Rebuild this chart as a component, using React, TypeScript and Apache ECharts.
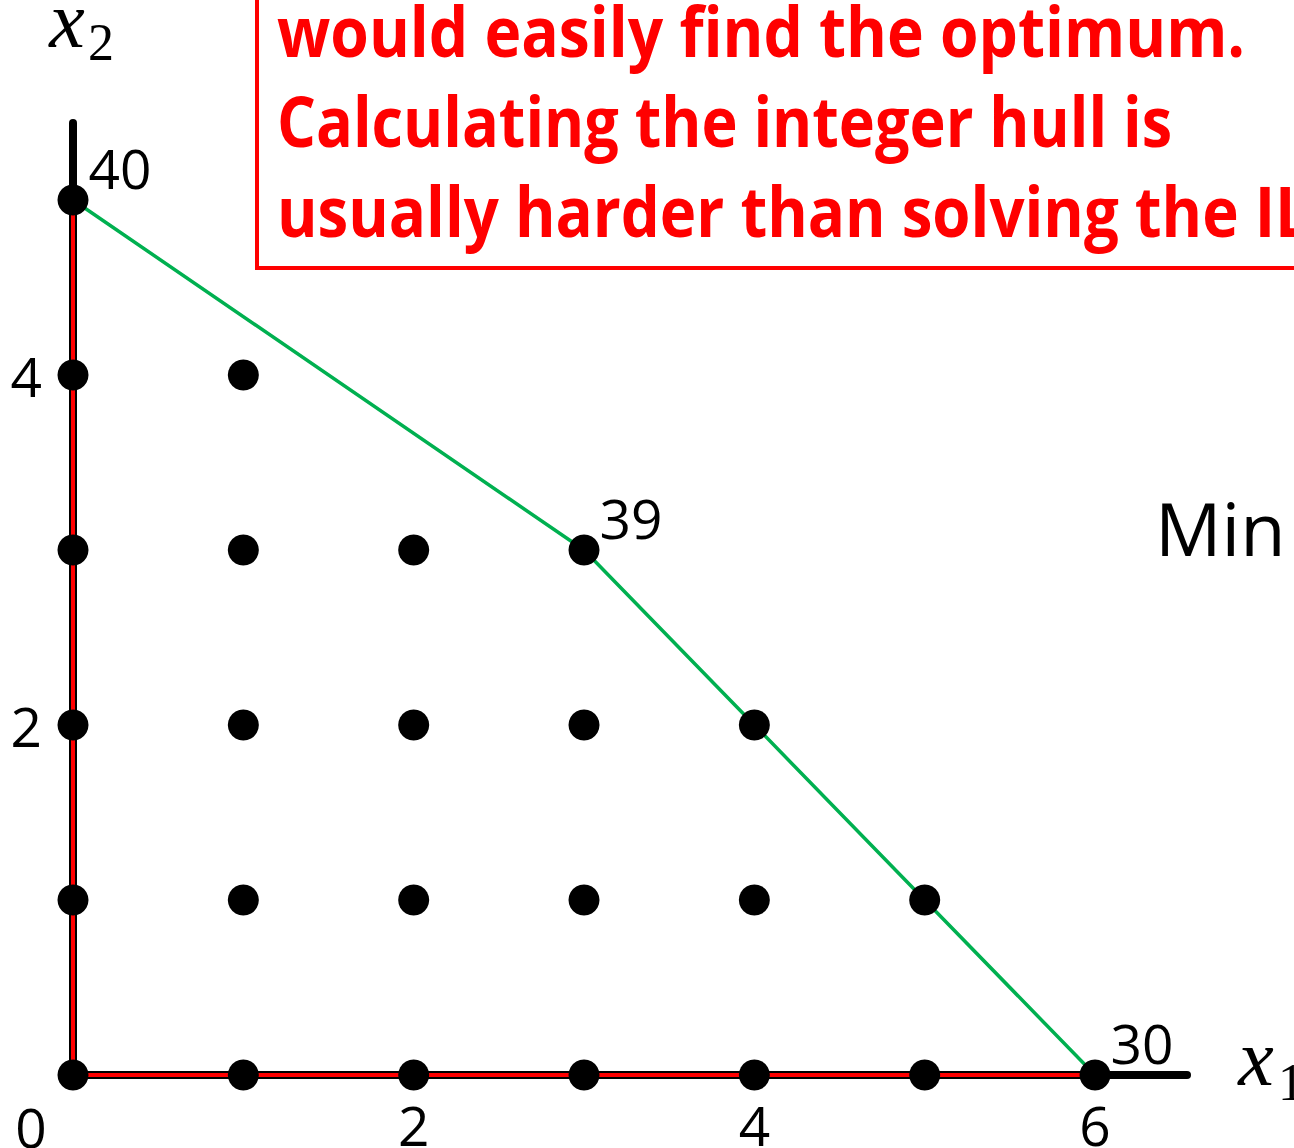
import React, { useEffect, useRef } from "react";
import * as echarts from "echarts";

// ---- data ----
// integer lattice points inside the polytope, grouped by row (x2 value)
const rowX2 = [0, 1, 2, 3, 4, 5];
const rowMaxX1 = [6, 5, 4, 3, 1, 0];
// integer hull vertices (green boundary)
const hullX1 = [0, 3, 4, 5, 6];
const hullX2 = [5, 3, 2, 1, 0];
// objective values labelled at vertices
const vertexX1 = [0, 3, 6];
const vertexX2 = [5, 3, 0];
const vertexValue = ["40", "39", "30"];
// tick labels
const xTickLabels = [2, 4, 6];
const yTickLabels = [2, 4];
const originLabel = "0";
const boxLines = [
  "would easily find the optimum.",
  "Calculating the integer hull is",
  "usually harder than solving the ILP.",
];
const sideText = "Min";

function measure(text: string, font: string): number {
  const c = document.createElement("canvas");
  const ctx = c.getContext("2d");
  if (!ctx) return 1;
  ctx.font = font;
  return ctx.measureText(text).width;
}

export default function App() {
  const ref = useRef<HTMLDivElement>(null);
  useEffect(() => {
    if (!ref.current) return;
    const chart = echarts.init(ref.current, null, { renderer: "svg" });

    const points: any[] = [];
    rowX2.forEach((y, i) => {
      for (let x = 0; x <= rowMaxX1[i]; x++) {
        const vi = vertexX1.findIndex((vx, k) => vx === x && vertexX2[k] === y);
        const item: any = { value: [x, y] };
        if (vi >= 0) {
          item.label = {
            show: true,
            formatter: vertexValue[vi],
          };
        }
        points.push(item);
      }
    });

    const boxFontSize = 70;
    const boxFont = `bold ${boxFontSize}px "Open Sans"`;
    const w1 = measure(boxLines[0], boxFont);
    const w2 = measure(boxLines[1], boxFont);
    const s1 = 968 / w1;
    const s2 = 895 / w2;
    const s3 = (s1 + s2) / 2;
    const scales = [s1, s2, s3];
    const lineY = [30, 120, 209];

    chart.setOption({
      animation: false,
      backgroundColor: "#ffffff",
      grid: {
        left: 73,
        right: 107,
        top: 123,
        bottom: 73,
        containLabel: false,
        outerBoundsMode: "none",
      },
      xAxis: {
        type: "value",
        min: 0,
        max: 6.54,
        interval: 1,
        axisLine: { show: true, lineStyle: { color: "#000", width: 8 } },
        axisTick: { show: false },
        splitLine: { show: false },
        axisLabel: {
          showMaxLabel: false,
          showMinLabel: true,
          margin: 22,
          fontFamily: "Open Sans",
          fontSize: 55,
          color: "#000",
          formatter: (v: number) => (xTickLabels.includes(v) ? String(v) : ""),
        },
      },
      yAxis: {
        type: "value",
        min: 0,
        max: 5.44,
        interval: 1,
        axisLine: { show: true, lineStyle: { color: "#000", width: 8 } },
        axisTick: { show: false },
        splitLine: { show: false },
        axisLabel: {
          showMaxLabel: false,
          margin: 31,
          fontFamily: "Open Sans",
          fontSize: 55,
          color: "#000",
          formatter: (v: number) => (yTickLabels.includes(v) ? String(v) : ""),
        },
      },
      series: [
        {
          type: "line",
          data: [
            [0, rowX2[rowX2.length - 1]],
            [0, 0],
            [rowMaxX1[0], 0],
          ],
          symbol: "none",
          lineStyle: { color: "#ff0000", width: 4 },
          z: 2,
        },
        {
          type: "line",
          data: hullX1.map((x, i) => [x, hullX2[i]]),
          symbol: "none",
          lineStyle: { color: "#00b050", width: 3.5 },
          z: 3,
        },
        {
          type: "scatter",
          data: points,
          symbol: "circle",
          symbolSize: 31,
          itemStyle: { color: "#000", opacity: 1 },
          label: {
            show: false,
            position: "inside",
            offset: [47, -33],
            fontFamily: "Open Sans",
            fontSize: 55,
            color: "#000",
            opacity: 1,
          },
          z: 4,
        },
      ],
      graphic: [
        {
          type: "rect",
          shape: { x: 257, y: -20, width: 1100, height: 288 },
          style: { fill: "#fff", stroke: "#ff0000", lineWidth: 4 },
          z: 10,
        },
        ...boxLines.map((t, i) => ({
          type: "text",
          x: 277,
          y: lineY[i],
          scaleX: scales[i],
          z: 11,
          style: {
            text: t,
            fontFamily: "Open Sans",
            fontWeight: "bold",
            fontSize: boxFontSize,
            fill: "#ff0000",
            align: "left",
            verticalAlign: "middle",
          },
        })),
        {
          type: "text",
          x: 1155,
          y: 527,
          style: {
            text: sideText,
            fontFamily: "Open Sans",
            fontSize: 74,
            fill: "#000",
            align: "left",
            verticalAlign: "middle",
          },
        },
        {
          type: "text",
          x: 31,
          y: 1126,
          style: {
            text: originLabel,
            fontFamily: "Open Sans",
            fontSize: 55,
            fill: "#000",
            align: "center",
            verticalAlign: "middle",
          },
        },
        {
          type: "text",
          x: 67,
          y: 20,
          style: {
            text: "x",
            fontFamily: "Liberation Serif",
            fontStyle: "italic",
            fontSize: 80,
            fill: "#000",
            align: "center",
            verticalAlign: "middle",
          },
        },
        {
          type: "text",
          x: 101,
          y: 42,
          style: {
            text: "2",
            fontFamily: "Liberation Serif",
            fontSize: 52,
            fill: "#000",
            align: "center",
            verticalAlign: "middle",
          },
        },
        {
          type: "text",
          x: 1256,
          y: 1058,
          style: {
            text: "x",
            fontFamily: "Liberation Serif",
            fontStyle: "italic",
            fontSize: 80,
            fill: "#000",
            align: "center",
            verticalAlign: "middle",
          },
        },
        {
          type: "text",
          x: 1278,
          y: 1082,
          style: {
            text: "1",
            fontFamily: "Liberation Serif",
            fontSize: 52,
            fill: "#000",
            align: "left",
            verticalAlign: "middle",
          },
        },
      ],
    });
    return () => chart.dispose();
  }, []);
  return (
    <div
      ref={ref}
      style={{ position: "fixed", left: 0, top: 0, width: 1294, height: 1148 }}
    />
  );
}
